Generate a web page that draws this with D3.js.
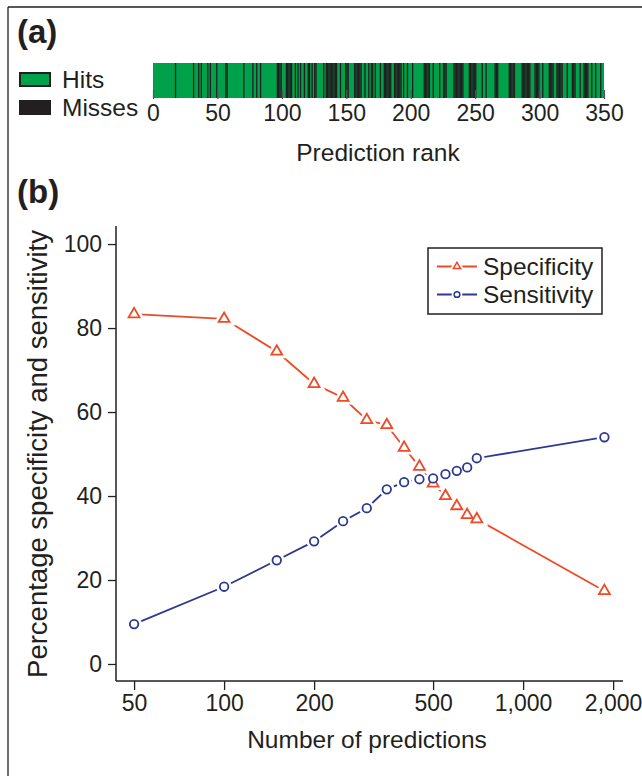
<!DOCTYPE html>
<html>
<head>
<meta charset="utf-8">
<script src="https://cdn.jsdelivr.net/npm/d3@7"></script>
<style>
  body { margin: 0; background: #fff; }
  svg { display: block; }
  text { font-family: "Liberation Sans", Arial, Helvetica, sans-serif; fill: #231f20; }
</style>
</head>
<body>
<svg id="chart" width="642" height="776"></svg>
<script>
// ---- Panel (a): ranked predictions, hit or miss ----
const totalRanks = 350;
const rankTicks = [0, 50, 100, 150, 200, 250, 300, 350];
const missRanks = [
  18, 32, 36, 38, 43, 45, 50, 57, 58, 71, 78, 81, 84,
  97, 98, 99, 100, 104, 105, 106, 107, 108, 111, 113, 115, 118, 121, 122, 124, 126, 127,
  133, 135, 136, 137, 138, 139, 140, 141, 142, 143, 146, 150, 151, 152,
  157, 158, 159, 160, 161, 162, 165, 168, 170, 171, 173, 177,
  180, 181, 182, 183, 184, 185, 188, 189, 190, 191, 192, 193, 195, 198, 202,
  211, 212, 213, 214, 215, 218, 223, 226, 227, 228,
  234, 235, 236, 237, 238, 239, 240, 241, 246, 247, 248, 249, 250, 251, 256, 259,
  266, 267, 268, 277, 278, 279, 280, 281, 287, 288, 289, 290, 291, 292, 293,
  297, 298, 299, 300, 303, 308, 309, 310, 311, 314, 315, 316, 317, 318,
  322, 326, 327, 328, 332, 335, 336, 337, 338, 341, 344, 348
];

// ---- Panel (b): specificity / sensitivity against number of predictions ----
const predictionCounts = [50, 100, 150, 200, 250, 300, 350, 400, 450, 500, 550, 600, 650, 700, 1870];
const specificity = [83.3, 82.2, 74.4, 66.7, 63.4, 58.1, 56.9, 51.5, 47.0, 43.0, 40.0, 37.6, 35.5, 34.5, 17.4];
const sensitivity = [9.5, 18.4, 24.7, 29.2, 34.0, 37.1, 41.6, 43.3, 44.0, 44.2, 45.2, 46.0, 46.8, 49.0, 54.0];
const countTicks = [50, 100, 200, 500, 1000, 2000];
const percentTicks = [0, 20, 40, 60, 80, 100];

const hitColor = "#00a14b";
const missColor = "#231f20";
const specColor = "#ef4a26";
const sensColor = "#2b3990";
const ink = "#231f20";

const svg = d3.select("#chart");

// page frame (left and top rules)
svg.append("line").attr("x1", 8).attr("y1", 7).attr("x2", 642).attr("y2", 7)
  .attr("stroke", ink).attr("stroke-width", 1.3);
svg.append("line").attr("x1", 8).attr("y1", 7).attr("x2", 8).attr("y2", 776)
  .attr("stroke", ink).attr("stroke-width", 1.3);

// panel letters
svg.append("text").attr("x", 17).attr("y", 43).attr("font-size", 33).attr("font-weight", "bold").text("(a)");
svg.append("text").attr("x", 17).attr("y", 203).attr("font-size", 33).attr("font-weight", "bold").text("(b)");

// ---------- (a) barcode ----------
const xRank = d3.scaleLinear().domain([0, totalRanks]).range([153, 604]);
const barTop = 63, barBottom = 98;

const gA = svg.append("g");
gA.append("rect")
  .attr("x", xRank(0)).attr("y", barTop)
  .attr("width", xRank(totalRanks) - xRank(0)).attr("height", barBottom - barTop)
  .attr("fill", hitColor);

gA.selectAll("rect.miss").data(missRanks).join("rect")
  .attr("class", "miss")
  .attr("x", d => xRank(d - 1))
  .attr("y", barTop)
  .attr("width", d => xRank(d) - xRank(d - 1))
  .attr("height", barBottom - barTop)
  .attr("fill", missColor);

const axisA = d3.axisBottom(xRank).tickValues(rankTicks).tickSize(0).tickPadding(0);
const gAxisA = gA.append("g").attr("transform", `translate(0,${barBottom})`).call(axisA);
gAxisA.select(".domain").remove();
gAxisA.selectAll(".tick").append("line")
  .attr("y1", -8).attr("y2", 1).attr("stroke", "#555").attr("stroke-width", 1.2);
gAxisA.selectAll(".tick text")
  .attr("y", 23).attr("dy", 0).attr("font-size", 23).attr("font-family", null).attr("fill", ink);

gA.append("text").attr("x", 378).attr("y", 161).attr("text-anchor", "middle")
  .attr("font-size", 24.5).text("Prediction rank");

// legend (a)
const legA = [{ label: "Hits", color: hitColor, y: 73 }, { label: "Misses", color: missColor, y: 101 }];
const gLegA = svg.append("g");
gLegA.selectAll("rect").data(legA).join("rect")
  .attr("x", 20).attr("y", d => d.y).attr("width", 30).attr("height", 13)
  .attr("fill", d => d.color).attr("stroke", missColor).attr("stroke-width", 2);
gLegA.selectAll("text").data(legA).join("text")
  .attr("x", 62).attr("y", d => d.y + 15).attr("font-size", 24.5).text(d => d.label);

// ---------- (b) line chart ----------
const x = d3.scaleLog().domain([43.5, 2158]).range([116, 623]);
const y = d3.scaleLinear().domain([-4.05, 104.3]).range([681, 226]);

const gB = svg.append("g");

const xAxis = d3.axisBottom(x).tickValues(countTicks).tickSize(9).tickPadding(5)
  .tickFormat(d3.format(",d"));
const gx = gB.append("g").attr("transform", "translate(0,681)").call(xAxis);
gx.select(".domain").attr("d", "M116,0H623").attr("stroke", ink).attr("stroke-width", 1.5);
gx.selectAll(".tick line").attr("stroke", ink).attr("stroke-width", 1.3);
gx.selectAll(".tick text").attr("font-size", 23).attr("font-family", null).attr("fill", ink);

const yAxis = d3.axisLeft(y).tickValues(percentTicks).tickSize(8).tickPadding(6);
const gy = gB.append("g").attr("transform", "translate(116,0)").call(yAxis);
gy.select(".domain").attr("d", "M0,226V681").attr("stroke", ink).attr("stroke-width", 1.5);
gy.selectAll(".tick line").attr("stroke", ink).attr("stroke-width", 1.3);
gy.selectAll(".tick text").attr("font-size", 23).attr("font-family", null).attr("fill", ink);

gB.append("text").attr("x", 367).attr("y", 748).attr("text-anchor", "middle")
  .attr("font-size", 24.5).text("Number of predictions");
gB.append("text")
  .attr("transform", "translate(47,454) rotate(-90)")
  .attr("text-anchor", "middle").attr("font-size", 27.5)
  .text("Percentage specificity and sensitivity");

const series = [
  { name: "Specificity", values: specificity, color: specColor, shape: d3.symbolTriangle, size: 52 },
  { name: "Sensitivity", values: sensitivity, color: sensColor, shape: d3.symbolCircle, size: 57 }
];
const pts = s => predictionCounts.map((c, i) => [c, s.values[i]]);
const line = d3.line().x(d => x(d[0])).y(d => y(d[1]));

series.forEach(s => {
  gB.append("path").datum(pts(s)).attr("d", line)
    .attr("fill", "none").attr("stroke", s.color).attr("stroke-width", 1.8);
});
// white halo so each segment stops short of its markers
series.forEach(s => {
  gB.append("g").selectAll("path").data(pts(s)).join("path")
    .attr("transform", d => `translate(${x(d[0])},${y(d[1])})`)
    .attr("d", d3.symbol(s.shape, s.size))
    .attr("fill", "#fff").attr("stroke", "#fff").attr("stroke-width", 7);
});
series.forEach(s => {
  gB.append("g").selectAll("path").data(pts(s)).join("path")
    .attr("transform", d => `translate(${x(d[0])},${y(d[1])})`)
    .attr("d", d3.symbol(s.shape, s.size))
    .attr("fill", "#fff").attr("stroke", s.color).attr("stroke-width", 1.8);
});

// legend (b)
const gLeg = gB.append("g");
gLeg.append("rect").attr("x", 428).attr("y", 248).attr("width", 174).attr("height", 66)
  .attr("fill", "#fff").attr("stroke", ink).attr("stroke-width", 1.5);
series.forEach((s, i) => {
  const ly = 266.5 + i * 28;
  gLeg.append("line").attr("x1", 437).attr("x2", 477).attr("y1", ly).attr("y2", ly)
    .attr("stroke", s.color).attr("stroke-width", 1.8);
  gLeg.append("path").attr("transform", `translate(457,${ly})`)
    .attr("d", d3.symbol(s.shape, s.size * 0.45))
    .attr("fill", "#fff").attr("stroke", "#fff").attr("stroke-width", 5);
  gLeg.append("path").attr("transform", `translate(457,${ly})`)
    .attr("d", d3.symbol(s.shape, s.size * 0.45))
    .attr("fill", "#fff").attr("stroke", s.color).attr("stroke-width", 1.5);
  gLeg.append("text").attr("x", 483).attr("y", ly + 8).attr("font-size", 24.5).text(s.name);
});
</script>
</body>
</html>
